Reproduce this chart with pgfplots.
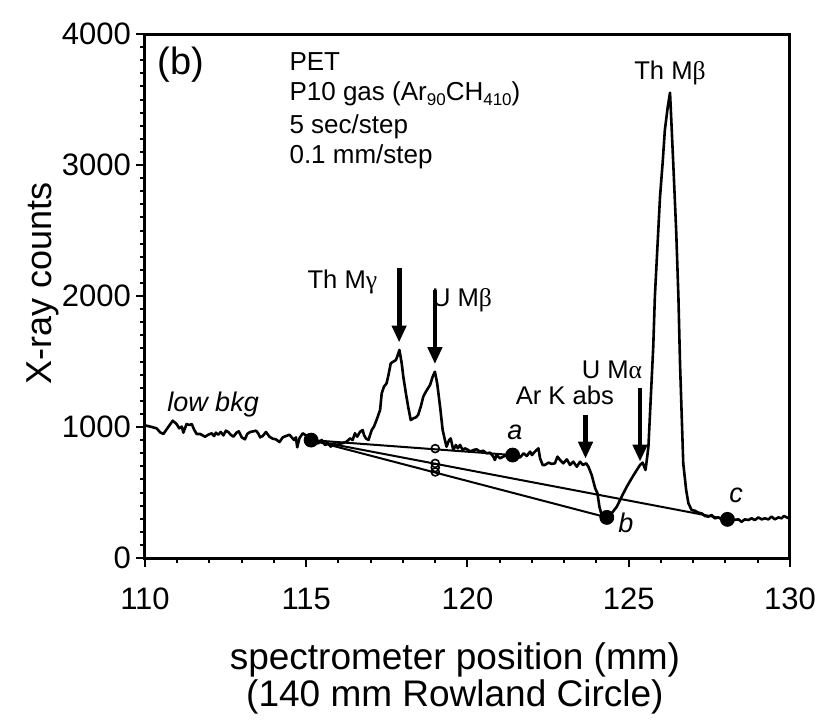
\documentclass[border=0pt]{standalone}
\usepackage{fontspec}
\setmainfont{Liberation Sans}
\newfontfamily\grk{Liberation Serif}
\usepackage{pgfplots}
\pgfplotsset{compat=1.18}
\usetikzlibrary{arrows.meta}
\newcommand{\sub}[1]{\raisebox{-0.3ex}{\fontsize{8.5}{8.5}\selectfont #1}}
\begin{document}
\begin{tikzpicture}
\begin{axis}[
  width=322.5pt, height=262pt, scale only axis,
  xmin=110, xmax=130, ymin=0, ymax=4000,
  xtick={110,115,120,125,130}, ytick={0,1000,2000,3000,4000},
  minor x tick num=4, minor y tick num=9,
  tick align=outside, tick pos=left,
  major tick length=4.5pt, minor tick length=2.5pt,
  axis line style={line width=1.5pt},
  tick style={line width=1pt, black},
  ticklabel style={font=\fontsize{15.5}{15.5}\selectfont},
  xticklabel style={yshift=-7pt},
  yticklabel style={xshift=1pt},
  /pgf/number format/1000 sep={},
  /pgf/number format/assume math mode=true,
  clip=false,
]
\coordinate (O) at (axis cs:110,0);
% background lines from low bkg
\addplot[black, line width=1pt] coordinates {(115.15,900) (121.4,786)};
\addplot[black, line width=1pt] coordinates {(115.15,900) (124.32,310)};
\addplot[black, line width=1pt] coordinates {(115.15,900) (128.06,295)};
% spectrum
\addplot[black, line width=1.3pt, line join=round] table {
110.00 1008
110.05 1010
110.21 1000
110.36 990
110.47 959
110.57 947
110.67 982
110.86 1048
110.98 1023
111.06 990
111.14 1003
111.19 957
111.29 1023
111.37 1015
111.45 1023
111.52 982
111.60 947
111.71 947
111.86 926
111.96 941
112.07 952
112.14 931
112.20 957
112.27 941
112.35 962
112.43 936
112.51 972
112.58 962
112.66 941
112.74 926
112.84 957
112.91 967
113.00 921
113.10 906
113.17 947
113.26 962
113.36 967
113.44 972
113.51 952
113.57 921
113.65 931
113.75 962
113.86 926
113.96 911
114.06 906
114.17 885
114.27 921
114.37 931
114.48 941
114.55 921
114.62 901
114.68 921
114.72 845
114.79 915
114.89 952
114.99 936
115.12 901
115.37 875
115.48 901
115.58 863
115.68 875
115.76 850
115.84 875
115.94 863
116.10 875
116.25 888
116.36 913
116.44 901
116.51 952
116.58 926
116.67 964
116.75 977
116.79 939
116.85 913
116.93 901
116.98 939
117.03 977
117.10 1003
117.18 1053
117.29 1130
117.34 1257
117.41 1308
117.49 1333
117.55 1397
117.62 1486
117.70 1499
117.78 1511
117.82 1537
117.89 1588
117.96 1486
118.01 1384
118.09 1257
118.16 1155
118.24 1053
118.32 1066
118.40 1074
118.47 1092
118.55 1155
118.63 1232
118.71 1270
118.84 1321
118.92 1384
118.99 1422
119.06 1333
119.15 1155
119.23 977
119.30 901
119.35 850
119.43 901
119.48 913
119.56 824
119.64 863
119.70 837
119.77 863
119.85 824
119.92 837
120.03 824
120.08 812
120.18 824
120.28 830
120.39 812
120.49 819
120.59 799
120.70 804
120.80 774
120.85 748
120.90 786
121.01 761
121.11 774
121.22 786
121.37 786
121.53 774
121.63 768
121.74 799
121.84 779
121.94 812
122.00 786
122.06 804
122.14 824
122.20 837
122.25 761
122.33 710
122.40 710
122.51 728
122.61 718
122.71 723
122.79 774
122.87 748
122.97 723
123.08 753
123.18 710
123.28 735
123.39 697
123.49 735
123.58 710
123.68 723
123.75 697
123.85 634
123.96 532
124.03 494
124.09 392
124.16 328
124.32 303
124.47 341
124.63 392
124.78 468
124.94 545
125.09 608
125.25 672
125.35 710
125.43 728
125.48 697
125.52 672
125.56 748
125.61 850
125.66 1104
125.71 1359
125.76 1613
125.81 1995
125.89 2377
125.97 2758
126.05 3013
126.12 3267
126.21 3445
126.28 3552
126.31 3394
126.38 3013
126.47 2504
126.54 1995
126.59 1486
126.64 1104
126.69 723
126.78 519
126.85 418
126.95 366
127.05 361
127.16 346
127.26 341
127.36 321
127.47 316
127.57 328
127.67 303
127.78 310
127.88 295
128.06 295
128.24 290
128.40 295
128.50 277
128.60 295
128.71 290
128.81 303
128.91 290
129.02 310
129.12 295
129.22 303
129.33 295
129.43 316
129.53 295
129.64 310
129.74 303
129.81 321
129.90 310
130.00 300
};
% points
\addplot[only marks, mark=*, mark size=3.5pt, black] coordinates {(115.15,900) (121.4,786) (124.32,310) (128.06,295)};
\addplot[only marks, mark=o, mark size=2pt, black, line width=0.8pt, mark options={fill=white}] coordinates {(119,835) (119,722) (119,690) (119,657)};
% arrows
\draw[-{Triangle[length=8.5pt,width=7pt]}, line width=2.4pt] (axis cs:117.88,2214) -- (axis cs:117.88,1645);
\draw[-{Triangle[length=8.5pt,width=7pt]}, line width=2.4pt] (axis cs:118.99,2046) -- (axis cs:118.99,1480);
\draw[-{Triangle[length=8.5pt,width=7pt]}, line width=2.4pt] (axis cs:123.66,1092) -- (axis cs:123.66,758);
\draw[-{Triangle[length=8.5pt,width=7pt]}, line width=2.4pt] (axis cs:125.35,1298) -- (axis cs:125.35,735);
% annotations
\node[font=\fontsize{19}{19}\selectfont] at (axis cs:111.12,3763) {(b)};
\begin{scope}[every node/.style={anchor=base west, inner sep=0pt, font=\fontsize{13}{13}\selectfont}]
\node at (axis cs:114.47,3718) {PET};
\node at (axis cs:114.47,3489) {P10 gas (Ar\sub{90}CH\sub{410})};
\node at (axis cs:114.47,3244) {5 sec/step};
\node at (axis cs:114.47,3015) {0.1 mm/step};
\end{scope}
\begin{scope}[every node/.style={font=\fontsize{12.8}{12.8}\selectfont}]
\node at (axis cs:116.12,2107) {Th M{\grk γ}};
\node at (axis cs:119.83,1969) {U M{\grk β}};
\node at (axis cs:123.02,1244) {Ar K abs};
\node at (axis cs:124.48,1435) {U M{\grk α}};
\node at (axis cs:126.28,3700) {Th M{\grk β}};
\end{scope}
\begin{scope}[every node/.style={font=\fontsize{13.5}{13.5}\selectfont\itshape}]
\node at (axis cs:112.11,1168) {low bkg};
\node at (axis cs:121.47,962) {a};
\node at (axis cs:124.91,267) {b};
\node at (axis cs:128.33,481) {c};
\end{scope}
% axis labels
\node[rotate=90, font=\fontsize{18}{18}\selectfont] at (axis cs:106.84,2099) {X-ray counts};
\node[font=\fontsize{18.5}{18.5}\selectfont] at (axis cs:119.61,-779) {spectrometer position (mm)};
\node[font=\fontsize{18.5}{18.5}\selectfont] at (axis cs:119.61,-1061) {(140 mm Rowland Circle)};
\end{axis}
\pgfresetboundingbox
\path (O) ++(-72.5pt,-81pt) rectangle ++(407.5pt,360pt);
\end{tikzpicture}
\end{document}
